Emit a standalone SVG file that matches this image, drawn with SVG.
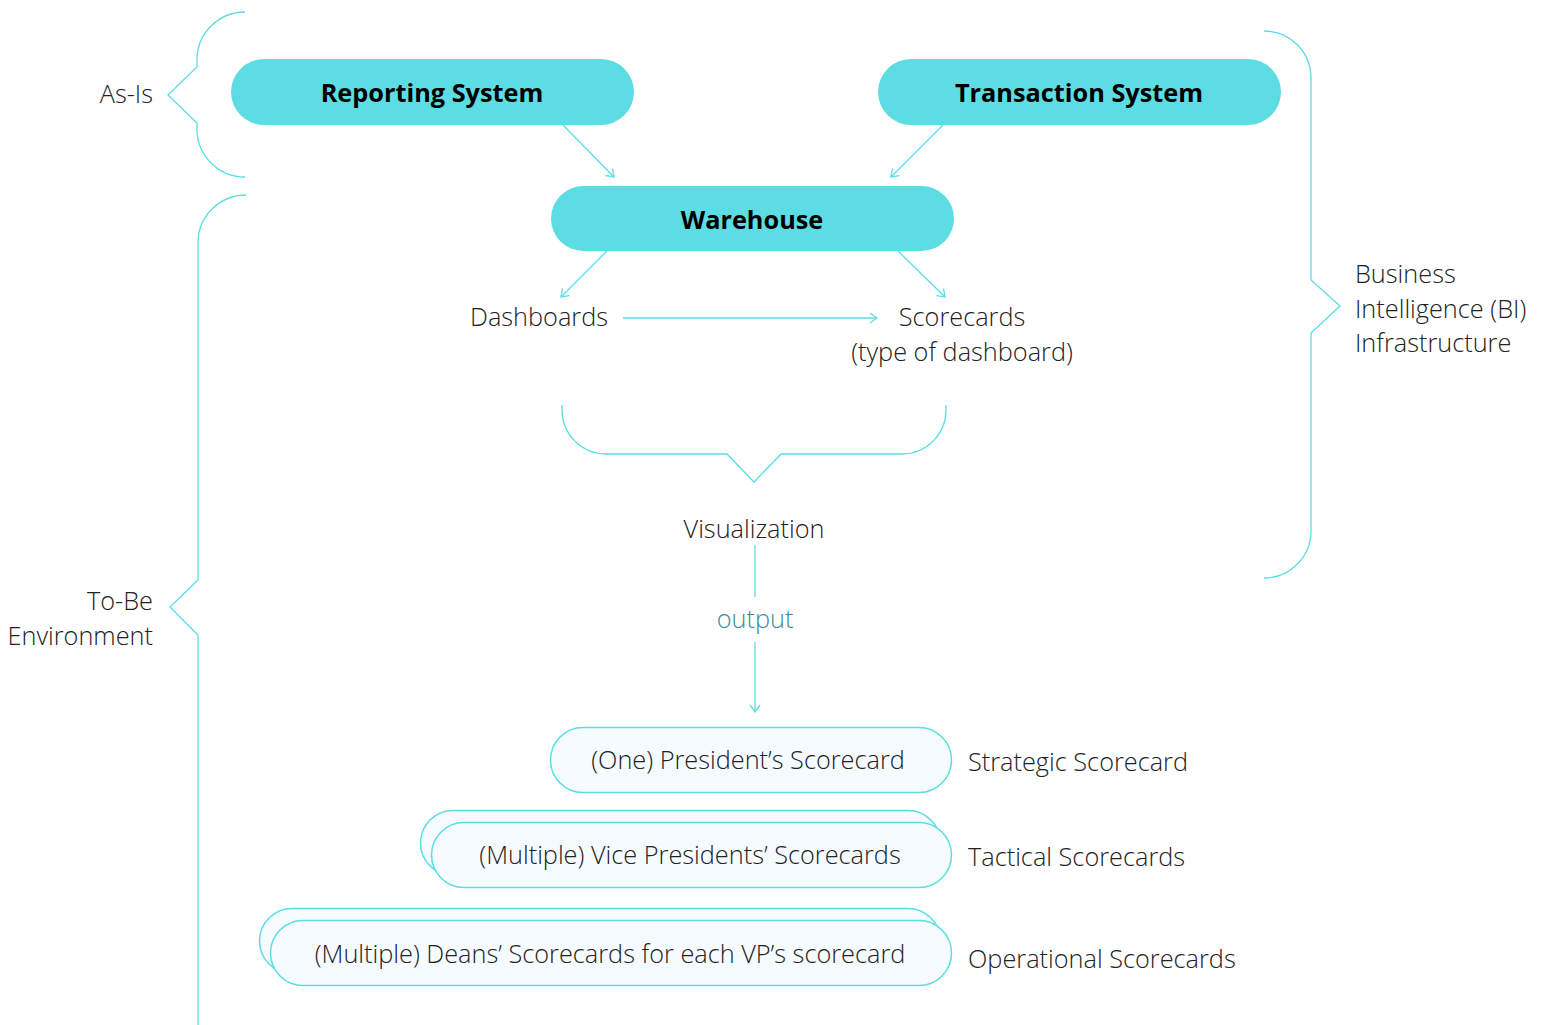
<svg xmlns="http://www.w3.org/2000/svg" width="1541" height="1025" viewBox="0 0 1541 1025">
<defs>
<style>
.pill{fill:#5bdde3;stroke:none}
.pt{font-family:"Open Sans","Liberation Sans",sans-serif;font-weight:700;font-size:25.3px;fill:#000;text-anchor:middle}
.t{font-family:"Open Sans","Liberation Sans",sans-serif;font-weight:300;font-size:25.3px;fill:#222}
.c{text-anchor:middle}
.r{text-anchor:end}
.ln{fill:none;stroke:#5bdde3;stroke-width:1.3}
.card{fill:#f5fbfe;stroke:#5bdde3;stroke-width:1.5}
.out{fill:#3f8a9c}
</style>
<marker id="ah" viewBox="0 0 12 12" refX="11" refY="6" markerWidth="12" markerHeight="12" markerUnits="userSpaceOnUse" orient="auto">
<path d="M4,1 L11,6 L4,11" fill="none" stroke="#5bdde3" stroke-width="1.3"/>
</marker>
</defs>
<rect width="1541" height="1025" fill="#fff"/>

<g id="braces">
<path class="ln" d="M245,12 A48,48 0 0 0 197,60 V67 L168,95 L197,123 V129 A48,48 0 0 0 245,177"/>
<path class="ln" d="M246,195 A48,48 0 0 0 198,243 V580 L170,607 L198,635 V1025"/>
<path class="ln" d="M1264,31 A47,47 0 0 1 1311,78 V280 L1340,306 L1311,333 V531 A47,47 0 0 1 1264,578"/>
<path class="ln" d="M562,405 V410 A44,44 0 0 0 606,454 H727 L754,482 L781,454 H902 A44,44 0 0 0 946,410 V405"/>
</g>

<g id="connectors">
<path class="ln" d="M563,125 L614,177" marker-end="url(#ah)"/>
<path class="ln" d="M943,125 L891,177" marker-end="url(#ah)"/>
<path class="ln" d="M607,251 L561,297" marker-end="url(#ah)"/>
<path class="ln" d="M898,251 L945,297" marker-end="url(#ah)"/>
<path class="ln" d="M623,318 L877,318" marker-end="url(#ah)"/>
<path class="ln" d="M755,545 V597"/>
<path class="ln" d="M755,642 V712" marker-end="url(#ah)"/>
<text class="t c out" x="755" y="628">output</text>
</g>

<g id="reporting-system">
<rect class="pill" x="231" y="59" width="403" height="66" rx="33"/>
<text class="pt" x="432" y="102">Reporting System</text>
</g>
<g id="transaction-system">
<rect class="pill" x="878" y="59" width="403" height="66" rx="33"/>
<text class="pt" x="1079" y="102">Transaction System</text>
</g>
<g id="warehouse">
<rect class="pill" x="551" y="186" width="403" height="65" rx="32.5"/>
<text class="pt" x="752" y="229">Warehouse</text>
</g>

<g id="dashboards"><text class="t c" x="539" y="326">Dashboards</text></g>
<g id="scorecards">
<text class="t c" x="962" y="326">Scorecards</text>
<text class="t c" x="962" y="361">(type of dashboard)</text>
</g>
<g id="visualization"><text class="t c" x="754" y="538">Visualization</text></g>

<g id="president">
<rect class="card" x="550.5" y="727.5" width="401" height="65" rx="32.5"/>
<text class="t c" x="748" y="769">(One) President’s Scorecard</text>
</g>
<g id="vice-presidents">
<rect class="card" x="420.5" y="810.5" width="520" height="65" rx="32.5"/>
<rect class="card" x="431.5" y="822.5" width="520" height="65" rx="32.5"/>
<text class="t c" x="690" y="864">(Multiple) Vice Presidents’ Scorecards</text>
</g>
<g id="deans">
<rect class="card" x="259.5" y="908.5" width="681" height="65" rx="32.5"/>
<rect class="card" x="270.5" y="920.5" width="681" height="65" rx="32.5"/>
<text class="t c" x="610" y="963">(Multiple) Deans’ Scorecards for each VP’s scorecard</text>
</g>

<g id="labels">
<text class="t r" x="153" y="103">As-Is</text>
<text class="t r" x="153" y="610">To-Be</text>
<text class="t r" x="153" y="645">Environment</text>
<text class="t" x="1355" y="283">Business</text>
<text class="t" x="1355" y="318">Intelligence (BI)</text>
<text class="t" x="1355" y="352">Infrastructure</text>
<text class="t" x="968" y="771">Strategic Scorecard</text>
<text class="t" x="968" y="866">Tactical Scorecards</text>
<text class="t" x="968" y="968">Operational Scorecards</text>
</g>
</svg>
